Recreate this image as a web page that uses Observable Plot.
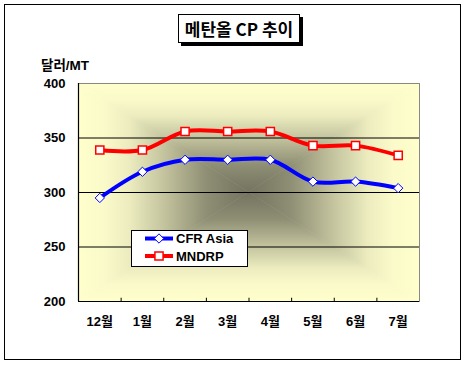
<!DOCTYPE html>
<html>
<head>
<meta charset="utf-8">
<script src="https://cdn.jsdelivr.net/npm/d3@7"></script>
<script src="https://cdn.jsdelivr.net/npm/@observablehq/plot@0.6"></script>
<style>
  html, body { margin: 0; padding: 0; background: #fff; }
  #wrap { position: relative; width: 466px; height: 368px; overflow: hidden; font-family: "Liberation Sans", Arial, "Noto Sans CJK KR", sans-serif; }
  #border { position: absolute; left: 4px; top: 4px; width: 455px; height: 354px; border: 1px solid #000; }
  #title { position: absolute; left: 178px; top: 14px; width: 120px; height: 27px; border: 1px solid #000; background: #fff;
           box-shadow: 3px 3px 0 #000; font-family: "Noto Sans CJK KR", sans-serif; font-size: 17px; font-weight: bold;
           line-height: 27px; text-align: center; color: #000; }
  #ylab { position: absolute; left: 41px; top: 54px; font-size: 13.5px; font-weight: bold; font-family: "Liberation Sans", "Noto Sans CJK KR", sans-serif; }
  #chart { position: absolute; left: 0; top: 0; }
  #legend { position: absolute; left: 131px; top: 230px; }
</style>
</head>
<body>
<div id="wrap">
  <div id="border"></div>
  <div id="chart"></div>
  <div id="title">메탄올 CP 추이</div>
  <div id="ylab">달러/MT</div>
  <div id="legend"></div>
</div>
<script>
const months = ["12월", "1월", "2월", "3월", "4월", "5월", "6월", "7월"];
const cfrAsia = [295, 319, 330, 330, 330, 310, 310, 304];
const mndrp = [339, 339, 356, 356, 356, 343, 343, 334];
const yTicks = [200, 250, 300, 350, 400];
const gridValues = [250, 300, 350];
const seriesNames = ["CFR Asia", "MNDRP"];

const idx = months.map((_, i) => i);
const rows1 = idx.map(i => ({i, v: cfrAsia[i]}));
const rows2 = idx.map(i => ({i, v: mndrp[i]}));

const plot = Plot.plot({
  width: 466,
  height: 368,
  marginLeft: 78,
  marginRight: 47,
  marginTop: 83,
  marginBottom: 67,
  style: {fontFamily: "'Liberation Sans', Arial, 'Noto Sans CJK KR', sans-serif", fontSize: "13px", fontWeight: "bold", color: "#000", background: "transparent"},
  x: {domain: [-0.5, months.length - 0.5], ticks: idx, tickFormat: i => months[i], tickSize: 0, tickPadding: 15, label: null},
  y: {domain: [200, 400], ticks: yTicks, tickSize: 0, tickPadding: 13, label: null},
  marks: [
    Plot.ruleY(gridValues, {stroke: "#000", strokeWidth: 1}),
    Plot.frame({stroke: "#888", strokeWidth: 1}),
    Plot.ruleY([200], {stroke: "#000", strokeWidth: 1.2}),
    Plot.ruleX([-0.5], {stroke: "#000", strokeWidth: 1.2}),
    Plot.ruleX(idx.slice(1), {x: i => i - 0.5, y1: 200, y2: 203, stroke: "#000"}),
    Plot.line(rows1, {x: "i", y: "v", stroke: "#0000ff", strokeWidth: 4, curve: "catmull-rom"}),
    Plot.line(rows2, {x: "i", y: "v", stroke: "#ff0000", strokeWidth: 4, curve: "catmull-rom"}),
    Plot.dot(rows1, {x: "i", y: "v", symbol: "diamond2", r: 4.2, fill: "#fff", stroke: "#0000ff", strokeWidth: 1}),
    Plot.dot(rows2, {x: "i", y: "v", symbol: "square", r: 4.6, fill: "#fff", stroke: "#ff0000", strokeWidth: 1.5})
  ]
});

// rectangular "from center" gradient background behind the marks
const sx = plot.scale("x"), sy = plot.scale("y");
const x0 = sx.apply(-0.5), x1 = sx.apply(months.length - 0.5);
const y0 = sy.apply(400), y1 = sy.apply(200);
const cx = (x0 + x1) / 2, cy = (y0 + y1) / 2;
const svg = d3.select(plot);
const defs = svg.insert("defs", ":first-child");
const stops = [[0, "#737360"], [0.25, "#8f8f75"], [0.5, "#c4c49f"], [0.7, "#ececbf"], [0.85, "#fafaca"], [1, "#ffffcc"]];
const sides = [
  {id: "gT", pts: [[x0, y0], [x1, y0], [cx, cy]], to: [cx, y0]},
  {id: "gB", pts: [[x0, y1], [x1, y1], [cx, cy]], to: [cx, y1]},
  {id: "gL", pts: [[x0, y0], [x0, y1], [cx, cy]], to: [x0, cy]},
  {id: "gR", pts: [[x1, y0], [x1, y1], [cx, cy]], to: [x1, cy]}
];
const bg = svg.insert("g", "defs + *");
for (const s of sides) {
  const lg = defs.append("linearGradient").attr("id", s.id).attr("gradientUnits", "userSpaceOnUse")
    .attr("x1", cx).attr("y1", cy).attr("x2", s.to[0]).attr("y2", s.to[1]);
  for (const [o, c] of stops) lg.append("stop").attr("offset", o).attr("stop-color", c);
  bg.append("path").attr("d", "M" + s.pts.map(p => p.join(",")).join("L") + "Z")
    .attr("fill", `url(#${s.id})`).attr("stroke", `url(#${s.id})`).attr("stroke-width", 0.6);
}
document.getElementById("chart").appendChild(plot);

// legend
const lw = 117, lh = 37;
const leg = d3.select("#legend").append("svg").attr("width", lw).attr("height", lh);
leg.append("rect").attr("x", 0.5).attr("y", 0.5).attr("width", lw - 1).attr("height", lh - 1).attr("fill", "#fff").attr("stroke", "#000");
const legItems = [
  {name: seriesNames[0], color: "#0000ff", sym: d3.symbolDiamond2, size: Math.PI * 4.2 * 4.2, sw: 1},
  {name: seriesNames[1], color: "#ff0000", sym: d3.symbolSquare, size: Math.PI * 4.6 * 4.6, sw: 1.5}
];
legItems.forEach((d, k) => {
  const yy = 8.5 + k * 17.5;
  leg.append("line").attr("x1", 14).attr("x2", 42).attr("y1", yy).attr("y2", yy).attr("stroke", d.color).attr("stroke-width", 4);
  leg.append("path").attr("d", d3.symbol(d.sym, d.size)()).attr("transform", `translate(28,${yy})`)
    .attr("fill", "#fff").attr("stroke", d.color).attr("stroke-width", d.sw);
  leg.append("text").attr("x", 45).attr("y", yy).attr("dy", "0.36em").text(d.name)
    .attr("font-family", "'Liberation Sans', Arial, sans-serif").attr("font-size", 13).attr("font-weight", "bold");
});
</script>
</body>
</html>
